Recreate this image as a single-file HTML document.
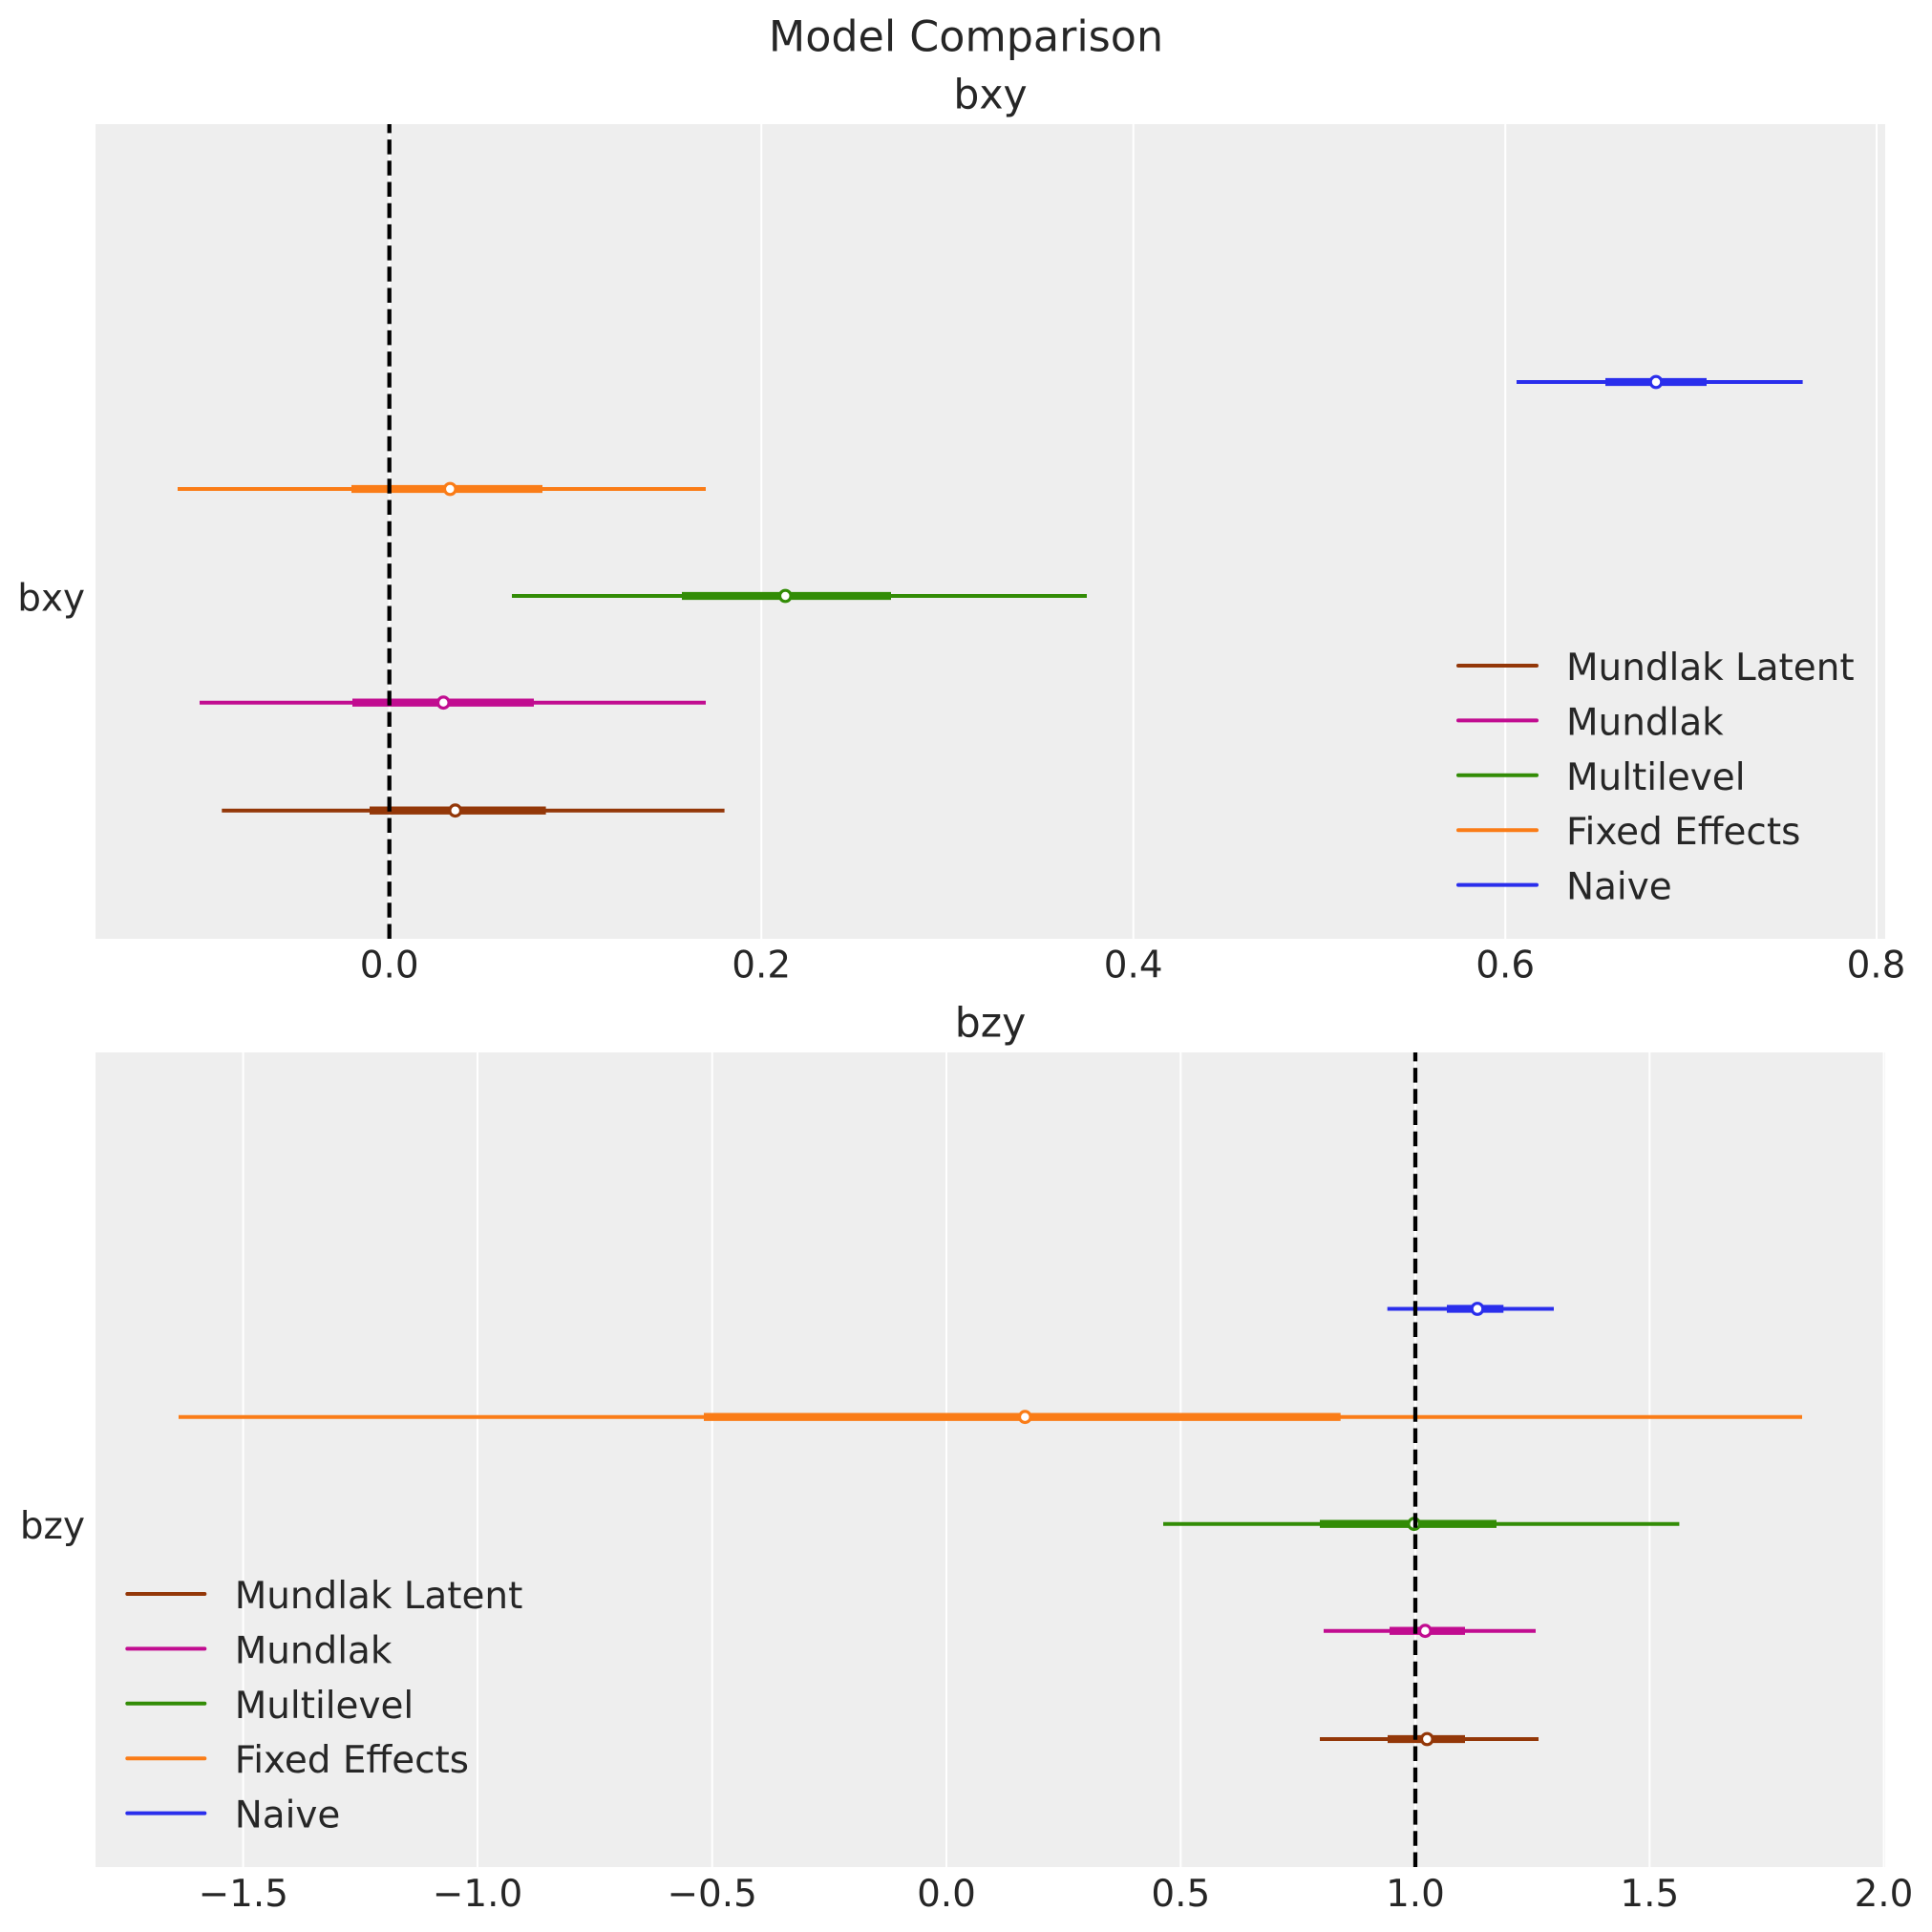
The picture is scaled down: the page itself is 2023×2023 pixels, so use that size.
<!DOCTYPE html>
<html>
<head>
<meta charset="utf-8">
<style>
html,body{margin:0;padding:0;background:#ffffff;}
svg{display:block;}
text{font-family:"DejaVu Sans","Liberation Sans",sans-serif;fill:#262626;}
</style>
</head>
<body>
<svg width="2023" height="2023" viewBox="0 0 2023 2023" xmlns="http://www.w3.org/2000/svg">
<rect x="0" y="0" width="2023" height="2023" fill="#ffffff"/>

<!-- Titles -->
<text x="1011.5" y="53.3" font-size="44.4" text-anchor="middle">Model Comparison</text>
<text x="1037" y="113.3" font-size="42.5" text-anchor="middle">bxy</text>
<text x="1037" y="1085.3" font-size="42.5" text-anchor="middle">bzy</text>

<!-- ================= TOP AXES ================= -->
<rect x="100" y="130" width="1874" height="853" fill="#eeeeee"/>
<g stroke="#ffffff" stroke-width="2">
  <line x1="407.7" y1="130" x2="407.7" y2="983"/>
  <line x1="797.2" y1="130" x2="797.2" y2="983"/>
  <line x1="1186.7" y1="130" x2="1186.7" y2="983"/>
  <line x1="1576.2" y1="130" x2="1576.2" y2="983"/>
  <line x1="1965" y1="130" x2="1965" y2="983"/>
</g>

<!-- Naive -->
<g stroke="#2a2eec" fill="none">
  <line x1="1588" y1="400" x2="1887.6" y2="400" stroke-width="4"/>
  <line x1="1681" y1="400" x2="1787" y2="400" stroke-width="8.3"/>
  <circle cx="1734" cy="400" r="5.8" fill="#ffffff" stroke-width="3.2"/>
</g>
<!-- Fixed Effects -->
<g stroke="#fa7c17" fill="none">
  <line x1="186" y1="512" x2="739" y2="512" stroke-width="4"/>
  <line x1="368" y1="512" x2="568" y2="512" stroke-width="8.3"/>
  <circle cx="471.3" cy="512" r="5.8" fill="#ffffff" stroke-width="3.2"/>
</g>
<!-- Multilevel -->
<g stroke="#328c06" fill="none">
  <line x1="536" y1="624" x2="1138" y2="624" stroke-width="4"/>
  <line x1="714" y1="624" x2="933" y2="624" stroke-width="8.3"/>
  <circle cx="822.3" cy="624" r="5.8" fill="#ffffff" stroke-width="3.2"/>
</g>
<!-- Mundlak -->
<g stroke="#c10c90" fill="none">
  <line x1="209" y1="735.7" x2="739" y2="735.7" stroke-width="4"/>
  <line x1="369" y1="735.7" x2="559" y2="735.7" stroke-width="8.3"/>
  <circle cx="464.3" cy="735.7" r="5.8" fill="#ffffff" stroke-width="3.2"/>
</g>
<!-- Mundlak Latent -->
<g stroke="#933708" fill="none">
  <line x1="232.3" y1="848.7" x2="758.6" y2="848.7" stroke-width="4"/>
  <line x1="387" y1="848.7" x2="571.6" y2="848.7" stroke-width="8.3"/>
  <circle cx="476.7" cy="848.7" r="5.8" fill="#ffffff" stroke-width="3.2"/>
</g>

<!-- reference dashed line top -->
<line x1="407.7" y1="983" x2="407.7" y2="130" stroke="#000000" stroke-width="4.3" stroke-dasharray="15.5 6.7"/>

<!-- top legend -->
<g stroke-width="4" stroke-linecap="round">
  <line x1="1527" y1="697" x2="1609" y2="697" stroke="#933708"/>
  <line x1="1527" y1="754.4" x2="1609" y2="754.4" stroke="#c10c90"/>
  <line x1="1527" y1="811.8" x2="1609" y2="811.8" stroke="#328c06"/>
  <line x1="1527" y1="869.2" x2="1609" y2="869.2" stroke="#fa7c17"/>
  <line x1="1527" y1="926.6" x2="1609" y2="926.6" stroke="#2a2eec"/>
</g>
<g font-size="38.9">
  <text x="1640" y="712">Mundlak Latent</text>
  <text x="1640" y="769.4">Mundlak</text>
  <text x="1640" y="826.8">Multilevel</text>
  <text x="1640" y="884.2">Fixed Effects</text>
  <text x="1640" y="941.6">Naive</text>
</g>

<!-- top ticks -->
<g font-size="38.9" text-anchor="middle">
  <text x="407.7" y="1023.3">0.0</text>
  <text x="797.2" y="1023.3">0.2</text>
  <text x="1186.7" y="1023.3">0.4</text>
  <text x="1576.2" y="1023.3">0.6</text>
  <text x="1964.5" y="1023.3">0.8</text>
</g>
<text x="89" y="639.4" font-size="38.9" text-anchor="end">bxy</text>

<!-- ================= BOTTOM AXES ================= -->
<rect x="100" y="1102" width="1874" height="853" fill="#eeeeee"/>
<g stroke="#ffffff" stroke-width="2">
  <line x1="254.6" y1="1102" x2="254.6" y2="1955"/>
  <line x1="500" y1="1102" x2="500" y2="1955"/>
  <line x1="745.7" y1="1102" x2="745.7" y2="1955"/>
  <line x1="991" y1="1102" x2="991" y2="1955"/>
  <line x1="1236.3" y1="1102" x2="1236.3" y2="1955"/>
  <line x1="1482" y1="1102" x2="1482" y2="1955"/>
  <line x1="1727.3" y1="1102" x2="1727.3" y2="1955"/>
  <line x1="1972.5" y1="1102" x2="1972.5" y2="1955"/>
</g>

<!-- Naive -->
<g stroke="#2a2eec" fill="none">
  <line x1="1452.7" y1="1370.5" x2="1627" y2="1370.5" stroke-width="4"/>
  <line x1="1515" y1="1370.5" x2="1574.3" y2="1370.5" stroke-width="8.3"/>
  <circle cx="1547" cy="1370.5" r="5.8" fill="#ffffff" stroke-width="3.2"/>
</g>
<!-- Fixed Effects -->
<g stroke="#fa7c17" fill="none">
  <line x1="187" y1="1483.7" x2="1887" y2="1483.7" stroke-width="4"/>
  <line x1="737" y1="1483.7" x2="1403.7" y2="1483.7" stroke-width="8.3"/>
  <circle cx="1073.3" cy="1483.7" r="5.8" fill="#ffffff" stroke-width="3.2"/>
</g>
<!-- Multilevel -->
<g stroke="#328c06" fill="none">
  <line x1="1218" y1="1595.7" x2="1758.4" y2="1595.7" stroke-width="4"/>
  <line x1="1382" y1="1595.7" x2="1567" y2="1595.7" stroke-width="8.3"/>
  <circle cx="1480.7" cy="1595.7" r="5.8" fill="#ffffff" stroke-width="3.2"/>
</g>
<!-- Mundlak -->
<g stroke="#c10c90" fill="none">
  <line x1="1386" y1="1707.7" x2="1608" y2="1707.7" stroke-width="4"/>
  <line x1="1455" y1="1707.7" x2="1534" y2="1707.7" stroke-width="8.3"/>
  <circle cx="1492.3" cy="1707.7" r="5.8" fill="#ffffff" stroke-width="3.2"/>
</g>
<!-- Mundlak Latent -->
<g stroke="#933708" fill="none">
  <line x1="1382" y1="1821" x2="1611" y2="1821" stroke-width="4"/>
  <line x1="1453" y1="1821" x2="1534" y2="1821" stroke-width="8.3"/>
  <circle cx="1494.3" cy="1821" r="5.8" fill="#ffffff" stroke-width="3.2"/>
</g>

<!-- reference dashed line bottom -->
<line x1="1482" y1="1955" x2="1482" y2="1102" stroke="#000000" stroke-width="4.3" stroke-dasharray="15.5 6.7"/>

<!-- bottom legend -->
<g stroke-width="4" stroke-linecap="round">
  <line x1="133.3" y1="1669" x2="214.3" y2="1669" stroke="#933708"/>
  <line x1="133.3" y1="1726.4" x2="214.3" y2="1726.4" stroke="#c10c90"/>
  <line x1="133.3" y1="1783.8" x2="214.3" y2="1783.8" stroke="#328c06"/>
  <line x1="133.3" y1="1841.2" x2="214.3" y2="1841.2" stroke="#fa7c17"/>
  <line x1="133.3" y1="1898.6" x2="214.3" y2="1898.6" stroke="#2a2eec"/>
</g>
<g font-size="38.9">
  <text x="245.7" y="1684">Mundlak Latent</text>
  <text x="245.7" y="1741.4">Mundlak</text>
  <text x="245.7" y="1798.8">Multilevel</text>
  <text x="245.7" y="1856.2">Fixed Effects</text>
  <text x="245.7" y="1913.6">Naive</text>
</g>

<!-- bottom ticks -->
<g font-size="38.9" text-anchor="middle">
  <text x="254.8" y="1996">−1.5</text>
  <text x="500" y="1996">−1.0</text>
  <text x="745.7" y="1996">−0.5</text>
  <text x="991" y="1996">0.0</text>
  <text x="1236.3" y="1996">0.5</text>
  <text x="1482" y="1996">1.0</text>
  <text x="1727.3" y="1996">1.5</text>
  <text x="1972.5" y="1996">2.0</text>
</g>
<text x="89" y="1611" font-size="38.9" text-anchor="end">bzy</text>
</svg>
</body>
</html>
